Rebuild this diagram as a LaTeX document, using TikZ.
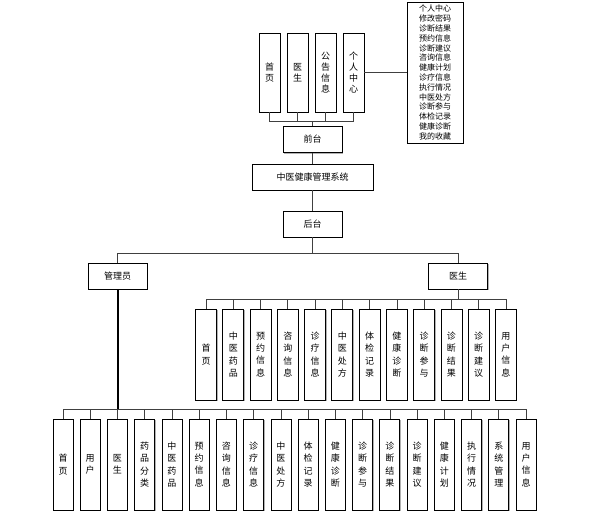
\documentclass[tikz,border=0pt]{standalone}
\usepackage{fontspec}
\setmainfont{Noto Sans CJK SC}
\usetikzlibrary{shadows}

\begin{document}
\begin{tikzpicture}[x=1pt, y=-1pt,
    box/.style={draw, line width=0.8pt, fill=white, inner sep=0pt,
        drop shadow={shadow xshift=1pt, shadow yshift=-1pt, fill=gray!60, opacity=1},
        font=\fontsize{9}{10}\selectfont},
    wide/.style={box, minimum width=59, minimum height=26},
    tall/.style={box, align=center, minimum width=21, minimum height=91,
        font=\fontsize{9}{12.3}\selectfont},
    link/.style={draw=black!75, line width=0.7pt}]
    \useasboundingbox (0,0) rectangle (607,515);
    % front end
    \foreach \lab [count=\i] in {{首\\页},{医\\生},{公\\告\\信\\息},{个\\人\\中\\心}}
        \node[box, align=center, minimum width=21, minimum height=79,
            font=\fontsize{9}{11}\selectfont] (f\i) at ({241.5+28*\i},72.5) {\lab};
    \node[box, align=center, minimum width=56, minimum height=141,
        font=\fontsize{8}{9.8}\selectfont] (center) at (435,72.5)
        {个人中心\\修改密码\\诊断结果\\预约信息\\诊断建议\\咨询信息\\健康计划\\诊疗信息\\执行情况\\中医处方\\诊断参与\\体检记录\\健康诊断\\我的收藏};
    \node[wide] (front) at (312.5,139.5) {前台};
    \node[box, minimum width=121, minimum height=26] (sys) at (312.5,177) {中医健康管理系统};
    \node[wide] (back) at (312.5,224) {后台};
    \coordinate (fbus) at (312.5,121);
    \foreach \i in {1,...,4}
        \draw[link] (f\i.south) |- (fbus);
    \draw[link] (fbus) -- (front.north);
    \draw[link] (f4.east) -- (center.west);
    \draw[link] (front.south) -- (sys.north);
    \draw[link] (sys.south) -- (back.north);
    % back end
    \node[wide] (admin) at (117.5,276) {管理员};
    \node[wide] (doctor) at (458,276) {医生};
    \coordinate (bbus) at (312.5,253);
    \draw[link] (back.south) -- (bbus);
    \draw[link] (bbus) -| (admin.north);
    \draw[link] (bbus) -| (doctor.north);
    % doctor pages
    \coordinate (dbus) at (458,299);
    \draw[link] (doctor.south) -- (dbus);
    \foreach \lab [count=\i from 0] in {{首\\页},{中\\医\\药\\品},{预\\约\\信\\息},{咨\\询\\信\\息},
            {诊\\疗\\信\\息},{中\\医\\处\\方},{体\\检\\记\\录},{健\\康\\诊\\断},
            {诊\\断\\参\\与},{诊\\断\\结\\果},{诊\\断\\建\\议},{用\\户\\信\\息}} {
        \node[tall] (d\i) at ({206+27.27*\i},354.5) {\lab};
        \draw[link] (d\i.north) |- (dbus);
    }
    % admin pages
    \coordinate (abus) at (117.5,409);
    \foreach \lab [count=\i from 0] in {{首\\页},{用\\户},{医\\生},{药\\品\\分\\类},{中\\医\\药\\品},
            {预\\约\\信\\息},{咨\\询\\信\\息},{诊\\疗\\信\\息},{中\\医\\处\\方},{体\\检\\记\\录},
            {健\\康\\诊\\断},{诊\\断\\参\\与},{诊\\断\\结\\果},{诊\\断\\建\\议},{健\\康\\计\\划},
            {执\\行\\情\\况},{系\\统\\管\\理},{用\\户\\信\\息}} {
        \node[tall, minimum width=20] (a\i) at ({63+27.24*\i},464.5) {\lab};
        \draw[link] (a\i.north) |- (abus);
    }
    \draw[line width=2pt] (admin.south) -- (abus);
\end{tikzpicture}
\end{document}
